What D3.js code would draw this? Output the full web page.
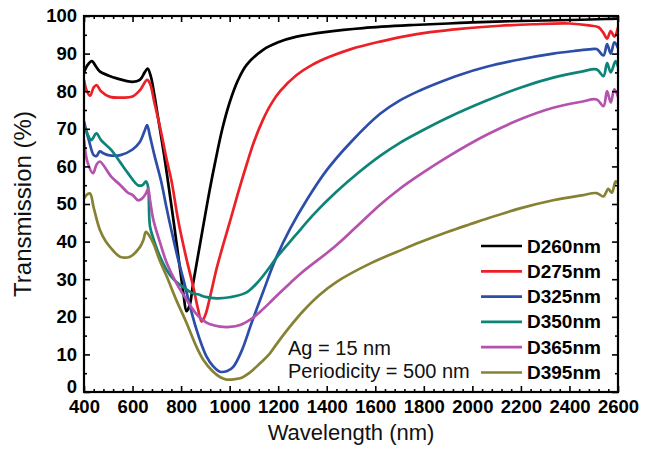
<!DOCTYPE html>
<html><head><meta charset="utf-8">
<script src="https://cdn.jsdelivr.net/npm/d3@7"></script>
<style>
html,body{margin:0;padding:0;background:#fff;}
svg{display:block;font-family:"Liberation Sans",Arial,sans-serif;}
</style></head>
<body>
<svg id="chart" width="646" height="461"></svg>
<script>
// ---- data ----
const seriesNames = ["D260nm","D275nm","D325nm","D350nm","D365nm","D395nm"];
const seriesColors = ["#000000","#ec2127","#2c4ea8","#0e8478","#b452ae","#858234"];

const d260 = [[400,85],[415,87],[432,88],[450,86.5],[466,85.2],[500,84.2],[535,83.4],[600,82.5],[630,83],[650,85],[662,86],[675,84],[690,79],[705,73],[730,63],[746,56],[770,45],[795,33],[810,26],[822,21.5],[835,23],[850,29],[880,40],[910,51],[940,61],[970,70],[1000,77],[1035,83],[1070,87],[1138,91],[1200,93],[1276,94.5],[1400,95.8],[1550,96.8],[1757,97.6],[1900,98],[2000,98.3],[2150,98.6],[2300,98.8],[2450,99],[2550,99.2],[2600,99.3]];
const d275 = [[400,83],[412,80],[425,78.8],[440,81],[452,81.6],[470,80],[507,78.5],[560,78.3],[600,78.6],[631,80.3],[660,83],[672,82],[690,77],[718,69],[740,62],[761,56],[787,46],[820,36],[850,28],[870,22],[885,18.7],[900,20.5],[920,25.5],[947,33],[975,39.5],[1002,45.5],[1035,53],[1070,60.5],[1100,66.5],[1138,72.5],[1170,76.5],[1208,80],[1276,84.3],[1340,87],[1414,89.2],[1500,91.2],[1620,93.2],[1720,94.6],[1826,95.7],[1950,96.6],[2114,97.4],[2250,97.8],[2400,98],[2480,97.5],[2520,97],[2540,95.5],[2555,94],[2570,96],[2585,94.5],[2600,97]];
const d325 = [[400,72],[420,67],[440,63],[452,62.8],[465,64],[480,63.5],[500,63],[550,63],[600,64.5],[630,66.5],[650,69.5],[660,71],[672,68],[690,63],[718,56],[740,49],[760,43],[785,36],[810,29.8],[840,22],[864,16.5],[885,12.5],[905,9.4],[930,7],[960,5.4],[990,5.6],[1015,6.7],[1050,11],[1091,18.5],[1140,27],[1187,35],[1250,43.5],[1317,51],[1400,59],[1500,66.5],[1620,74],[1700,77.5],[1784,80.2],[1850,82],[1950,84.4],[2059,86.5],[2200,88.5],[2333,90],[2420,90.7],[2480,91.1],[2512,91.2],[2540,89.5],[2555,92.5],[2570,90],[2585,93],[2600,91.5]];
const d350 = [[400,71],[415,68.5],[430,67],[451,68.8],[470,67],[512,64.4],[550,61],[581,58.2],[622,55],[640,55],[656,56],[664,54.5],[672,44],[690,40],[713,36],[740,32.5],[768,30],[800,28.3],[850,26.2],[870,26],[900,25.3],[947,24.9],[1000,25.2],[1070,26.5],[1120,29.5],[1166,33.3],[1194,35.8],[1269,41.5],[1350,47.5],[1441,53.3],[1530,58.3],[1620,62.8],[1700,66.2],[1784,69.2],[1900,73],[2059,77.5],[2200,81],[2333,83.6],[2450,85.2],[2512,85.8],[2540,84],[2555,87.5],[2570,85],[2590,88],[2600,86.5]];
const d365 = [[400,67],[415,61],[437,58.2],[452,60.5],[465,61.3],[512,57.3],[550,55],[581,53],[602,52.3],[622,51],[640,51.5],[655,52.8],[664,54],[672,51],[686,45.7],[712,40],[741,34.3],[780,29],[823,24.5],[860,21],[892,19],[920,18],[960,17.4],[1000,17.3],[1043,17.8],[1091,19.5],[1125,21.3],[1166,23.8],[1194,25.6],[1250,29],[1300,31.9],[1430,38.5],[1520,43.8],[1620,49.8],[1700,54],[1784,57.8],[1900,62.6],[2059,68.4],[2200,72.6],[2333,75.6],[2450,77.2],[2512,77.8],[2540,76],[2555,80],[2570,77],[2585,80.5],[2600,78.5]];
const d395 = [[400,51.5],[412,52.5],[425,52.8],[440,49],[466,43],[490,40],[507,38.6],[548,36],[590,36],[631,38.6],[645,40.5],[655,42.6],[670,41.5],[686,39.5],[712,35],[741,30.7],[780,24.5],[823,18.3],[860,12.5],[892,8.5],[930,5.5],[960,4],[988,3.3],[1020,3.4],[1050,3.8],[1080,5],[1120,7.3],[1166,10.3],[1194,12.8],[1250,17.5],[1304,21.6],[1370,25.8],[1441,29.3],[1580,34.2],[1716,38],[1784,39.8],[1900,42.6],[1990,44.6],[2059,46.1],[2200,48.9],[2333,51],[2450,52.3],[2512,52.9],[2540,52],[2560,54],[2575,53],[2590,56],[2600,55.5]];
const seriesData = [d260,d275,d325,d350,d365,d395];

const xMajorTicks = [400,600,800,1000,1200,1400,1600,1800,2000,2200,2400,2600];
const yMajorTicks = [0,10,20,30,40,50,60,70,80,90,100];
const xLabel = "Wavelength (nm)";
const yLabel = "Transmission (%)";
const noteLines = ["Ag = 15 nm","Periodicity = 500 nm"];

// ---- layout ----
const L = 84, R = 618, T = 16, B = 392;
const svg = d3.select("#chart");
const x = d3.scaleLinear().domain([400,2600]).range([L,R]);
const y = d3.scaleLinear().domain([0,100]).range([B,T]);

const xMinor = d3.range(400,2601,40).filter(v => !xMajorTicks.includes(v));
const yMinor = d3.range(5,100,10);

svg.append("clipPath").attr("id","clip").append("rect")
  .attr("x",L).attr("y",T-2).attr("width",R-L).attr("height",B-T+2);

const line = d3.line().x(d=>x(d[0])).y(d=>y(d[1])).curve(d3.curveCatmullRom.alpha(0.5));
const gLines = svg.append("g").attr("clip-path","url(#clip)");
seriesData.forEach((s,i)=>{
  gLines.append("path").datum(s).attr("d",line)
    .attr("fill","none").attr("stroke",seriesColors[i])
    .attr("stroke-width",2.7).attr("stroke-linejoin","round");
});

function styleAxis(g){
  g.select(".domain").remove();
  g.selectAll(".tick line").attr("stroke","#000").attr("stroke-width",1.6);
  g.selectAll("text").attr("fill","#000").attr("font-size",18.5).attr("font-weight","bold")
    .attr("font-family","'Liberation Sans',Arial,sans-serif");
}
function addAxis(axis, tx, ty){
  const g = svg.append("g").attr("transform",`translate(${tx},${ty})`).call(axis);
  styleAxis(g);
  return g;
}
addAxis(d3.axisBottom(x).tickValues(xMajorTicks).tickSize(-6).tickPadding(8).tickFormat(d3.format("d")),0,B);
addAxis(d3.axisBottom(x).tickValues(xMinor).tickSize(-3).tickFormat(""),0,B);
addAxis(d3.axisTop(x).tickValues(xMajorTicks).tickSize(-6).tickFormat(""),0,T);
addAxis(d3.axisTop(x).tickValues(xMinor).tickSize(-3).tickFormat(""),0,T);
const gLeft = addAxis(d3.axisLeft(y).tickValues(yMajorTicks).tickSize(-6).tickPadding(7).tickFormat(d3.format("d")),L,0);
gLeft.selectAll(".tick").filter(d=>d===0).select("text").attr("dy","0.02em");
addAxis(d3.axisLeft(y).tickValues(yMinor).tickSize(-3).tickFormat(""),L,0);
addAxis(d3.axisRight(y).tickValues(yMajorTicks).tickSize(-6).tickFormat(""),R,0);
addAxis(d3.axisRight(y).tickValues(yMinor).tickSize(-3).tickFormat(""),R,0);

svg.append("rect").attr("x",L).attr("y",T).attr("width",R-L).attr("height",B-T)
  .attr("fill","none").attr("stroke","#000").attr("stroke-width",2.2);

svg.append("text").attr("x",(L+R)/2).attr("y",440).attr("text-anchor","middle")
  .attr("font-size",22).attr("fill","#111").text(xLabel);
svg.append("text").attr("transform",`translate(31,${(T+B)/2}) rotate(-90)`)
  .attr("text-anchor","middle").attr("font-size",24).attr("fill","#111").text(yLabel);

const legY0 = 246, legDy = 25.3;
seriesNames.forEach((n,i)=>{
  const cy = legY0 + i*legDy;
  svg.append("line").attr("x1",481).attr("x2",522).attr("y1",cy).attr("y2",cy)
    .attr("stroke",seriesColors[i]).attr("stroke-width",2.7);
  svg.append("text").attr("x",527).attr("y",cy+6.5).attr("font-size",19)
    .attr("font-weight","bold").attr("fill","#000").text(n);
});

noteLines.forEach((t,i)=>{
  svg.append("text").attr("x",288).attr("y",355+i*23.3).attr("font-size",20)
    .attr("fill","#111").text(t);
});
</script>
</body></html>
